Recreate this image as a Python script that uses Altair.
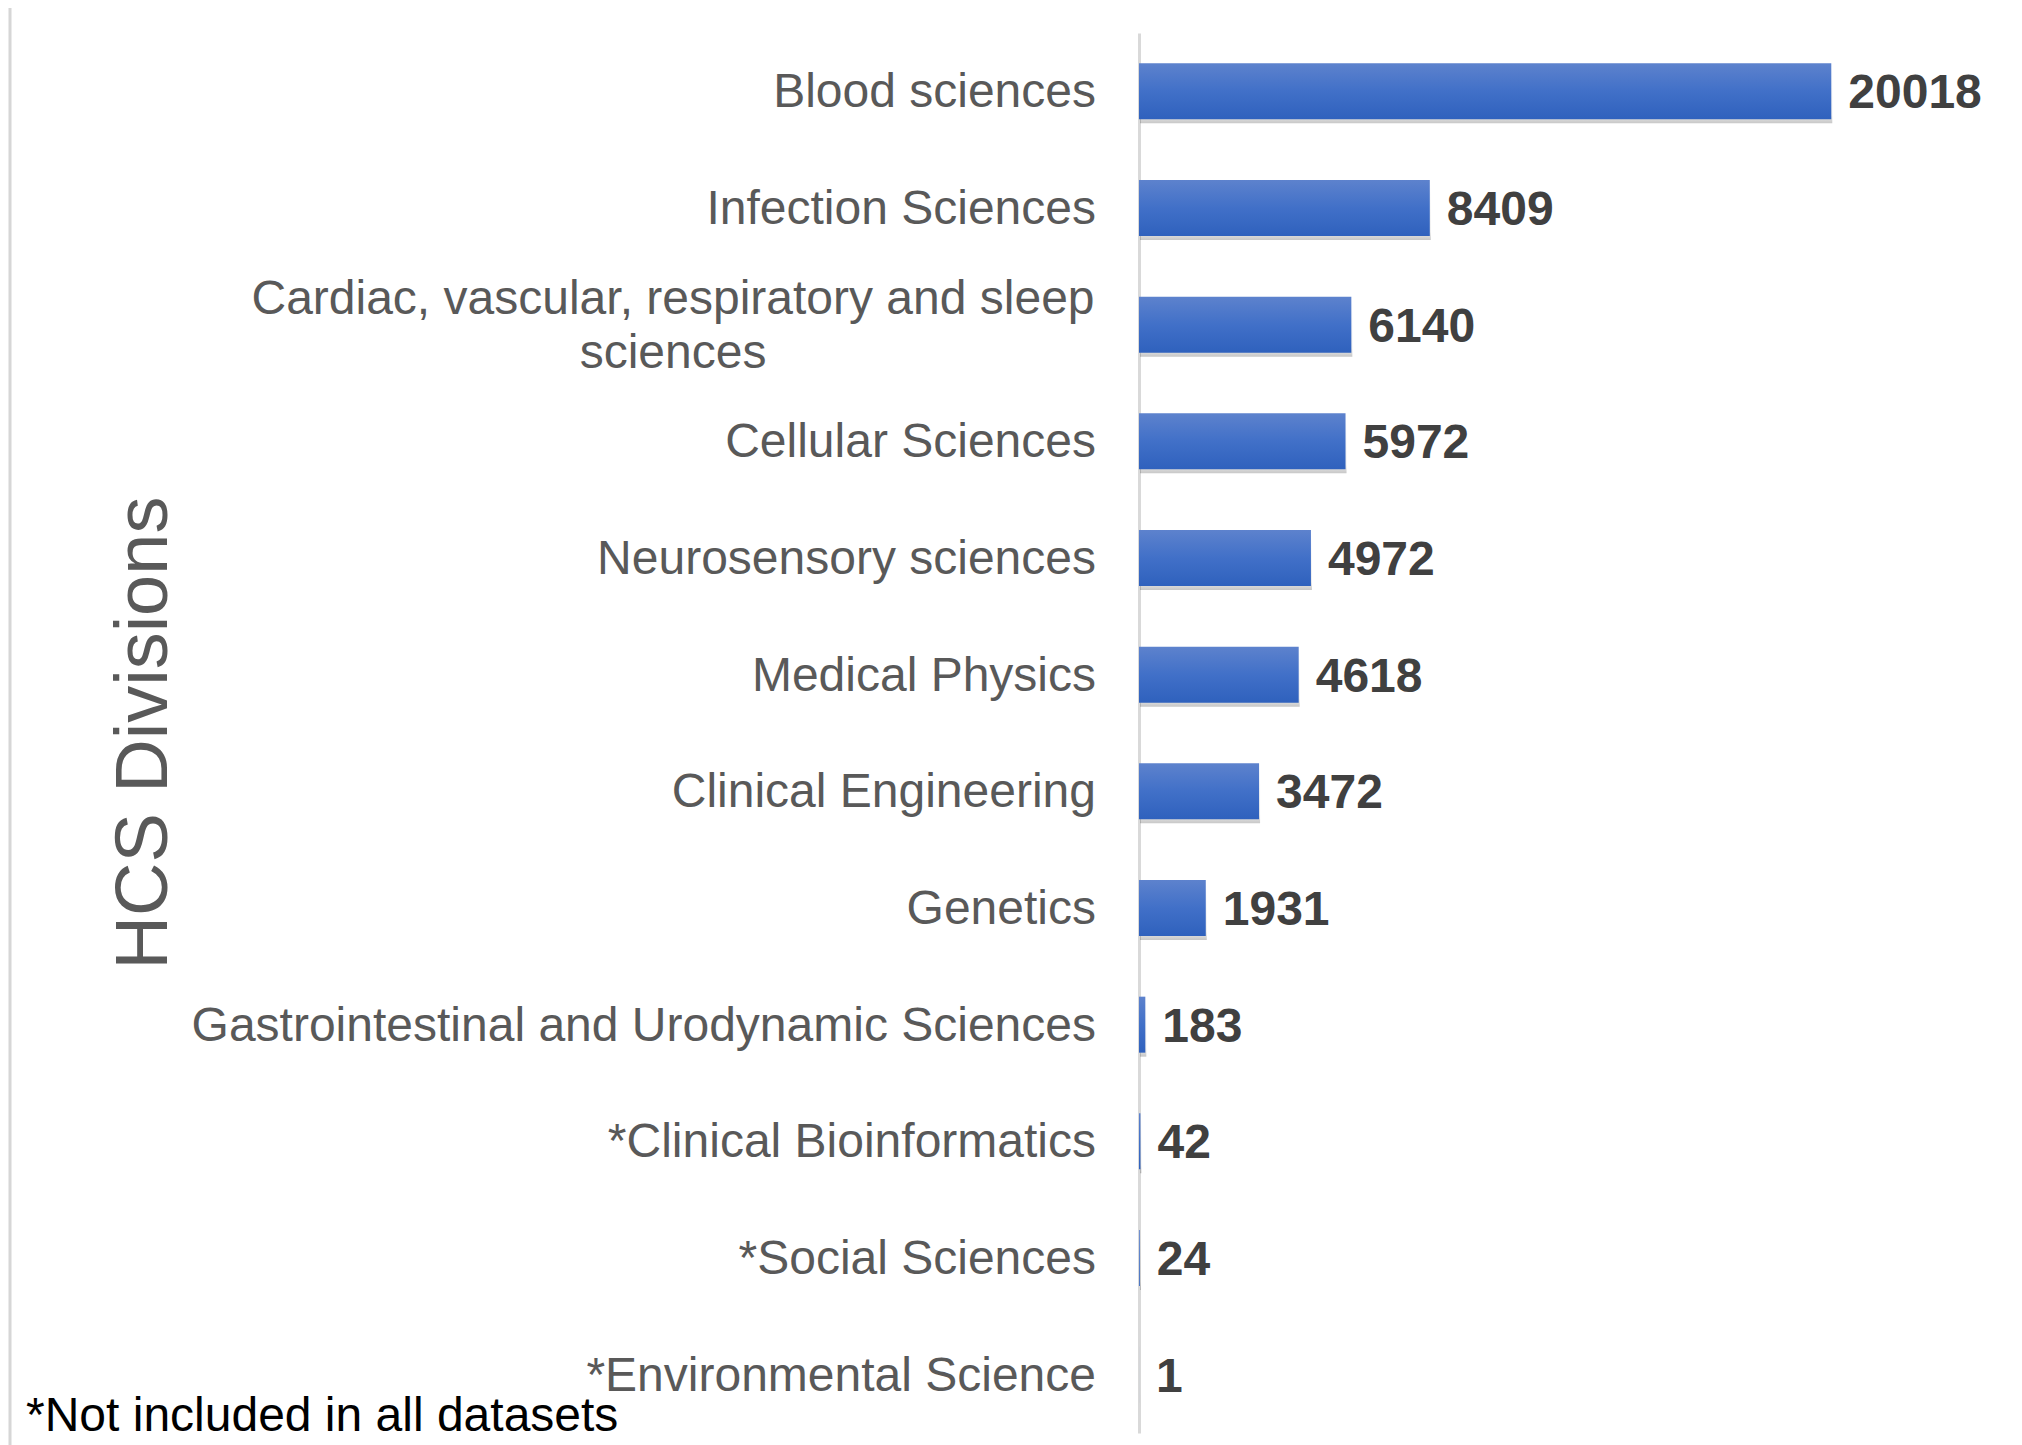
import altair as alt
import pandas as pd

categories = [
    "Blood sciences",
    "Infection Sciences",
    "Cardiac, vascular, respiratory and sleep sciences",
    "Cellular Sciences",
    "Neurosensory sciences",
    "Medical Physics",
    "Clinical Engineering",
    "Genetics",
    "Gastrointestinal and Urodynamic Sciences",
    "*Clinical Bioinformatics",
    "*Social Sciences",
    "*Environmental Science",
]
values = [20018, 8409, 6140, 5972, 4972, 4618, 3472, 1931, 183, 42, 24, 1]
axis_title = "HCS Divisions"
footnote = "*Not included in all datasets"
wrapped = {"Cardiac, vascular, respiratory and sleep sciences":
           "Cardiac, vascular, respiratory and sleep\nsciences"}

df = pd.DataFrame({"category": categories, "value": values})
df["label_right"] = [("" if c in wrapped else c) for c in categories]
df_wrap = pd.DataFrame({"category": list(wrapped.keys()),
                        "text": list(wrapped.values())})

FONT = "Liberation Sans"
W, H = 830, 1400

yenc = alt.Y("category:N", sort=categories,
             scale=alt.Scale(paddingInner=0.52, paddingOuter=0.26),
             axis=alt.Axis(labels=False, ticks=False, title=None,
                           domainColor="#d9d9d9", domainWidth=3))
xenc = alt.X("value:Q", scale=alt.Scale(domain=[0, 24000]), axis=None)

base = alt.Chart(df)

shadow = base.mark_bar(
    yOffset=4, xOffset=1,
    color=alt.Gradient(gradient="linear", x1=0, x2=0, y1=0, y2=1,
                       stops=[alt.GradientStop(color="rgba(0,0,0,0.0)", offset=0),
                              alt.GradientStop(color="rgba(0,0,0,0.08)", offset=0.85),
                              alt.GradientStop(color="rgba(0,0,0,0.22)", offset=1)])
).encode(x=xenc, y=yenc)

bars = base.mark_bar(
    color=alt.Gradient(gradient="linear", x1=0, x2=0, y1=0, y2=1,
                       stops=[alt.GradientStop(color="#5d82cd", offset=0),
                              alt.GradientStop(color="#4170c8", offset=0.5),
                              alt.GradientStop(color="#2f61bd", offset=1)])
).encode(x=xenc, y=yenc)

vals = base.mark_text(align="left", baseline="middle", dx=17, dy=3, font=FONT,
                      fontSize=48, fontWeight="bold", color="#404040").encode(
    x=xenc, y=alt.Y("category:N", sort=categories), text=alt.Text("value:Q", format="d"))

labels = base.mark_text(align="right", baseline="middle", dy=2, font=FONT,
                        fontSize=48, color="#595959").encode(
    x=alt.value(-43), y=alt.Y("category:N", sort=categories), text="label_right:N")

wrap_labels = alt.Chart(df_wrap).mark_text(
    align="center", baseline="middle", font=FONT, fontSize=48, color="#595959",
    lineBreak="\n", lineHeight=54, dy=-25).encode(
    x=alt.value(-466), y=alt.Y("category:N", sort=categories), text="text:N")

title_df = pd.DataFrame({"t": [axis_title]})
ytitle = alt.Chart(title_df).mark_text(
    angle=270, align="center", baseline="middle", font=FONT, fontSize=74,
    color="#595959").encode(x=alt.value(-994), y=alt.value(H / 2), text="t:N")

foot_df = pd.DataFrame({"t": [footnote]})
foot = alt.Chart(foot_df).mark_text(
    align="left", baseline="alphabetic", font=FONT, fontSize=48,
    color="#000000").encode(x=alt.value(-1113), y=alt.value(1398), text="t:N")

frame = alt.Chart(foot_df).mark_rule(color="#d6d6d6", strokeWidth=3).encode(
    x=alt.value(-1129), y=alt.value(-25), y2=alt.value(H + 12))

chart = alt.layer(frame, shadow, bars, vals, labels, wrap_labels, ytitle, foot).properties(
    width=W, height=H,
    autosize=alt.AutoSizeParams(type="none"),
    padding={"left": 1131, "top": 25, "right": 40, "bottom": 12},
    background="white",
).configure_view(stroke=None)

chart.save("out.html", embed_options={"renderer": "svg", "actions": False})
